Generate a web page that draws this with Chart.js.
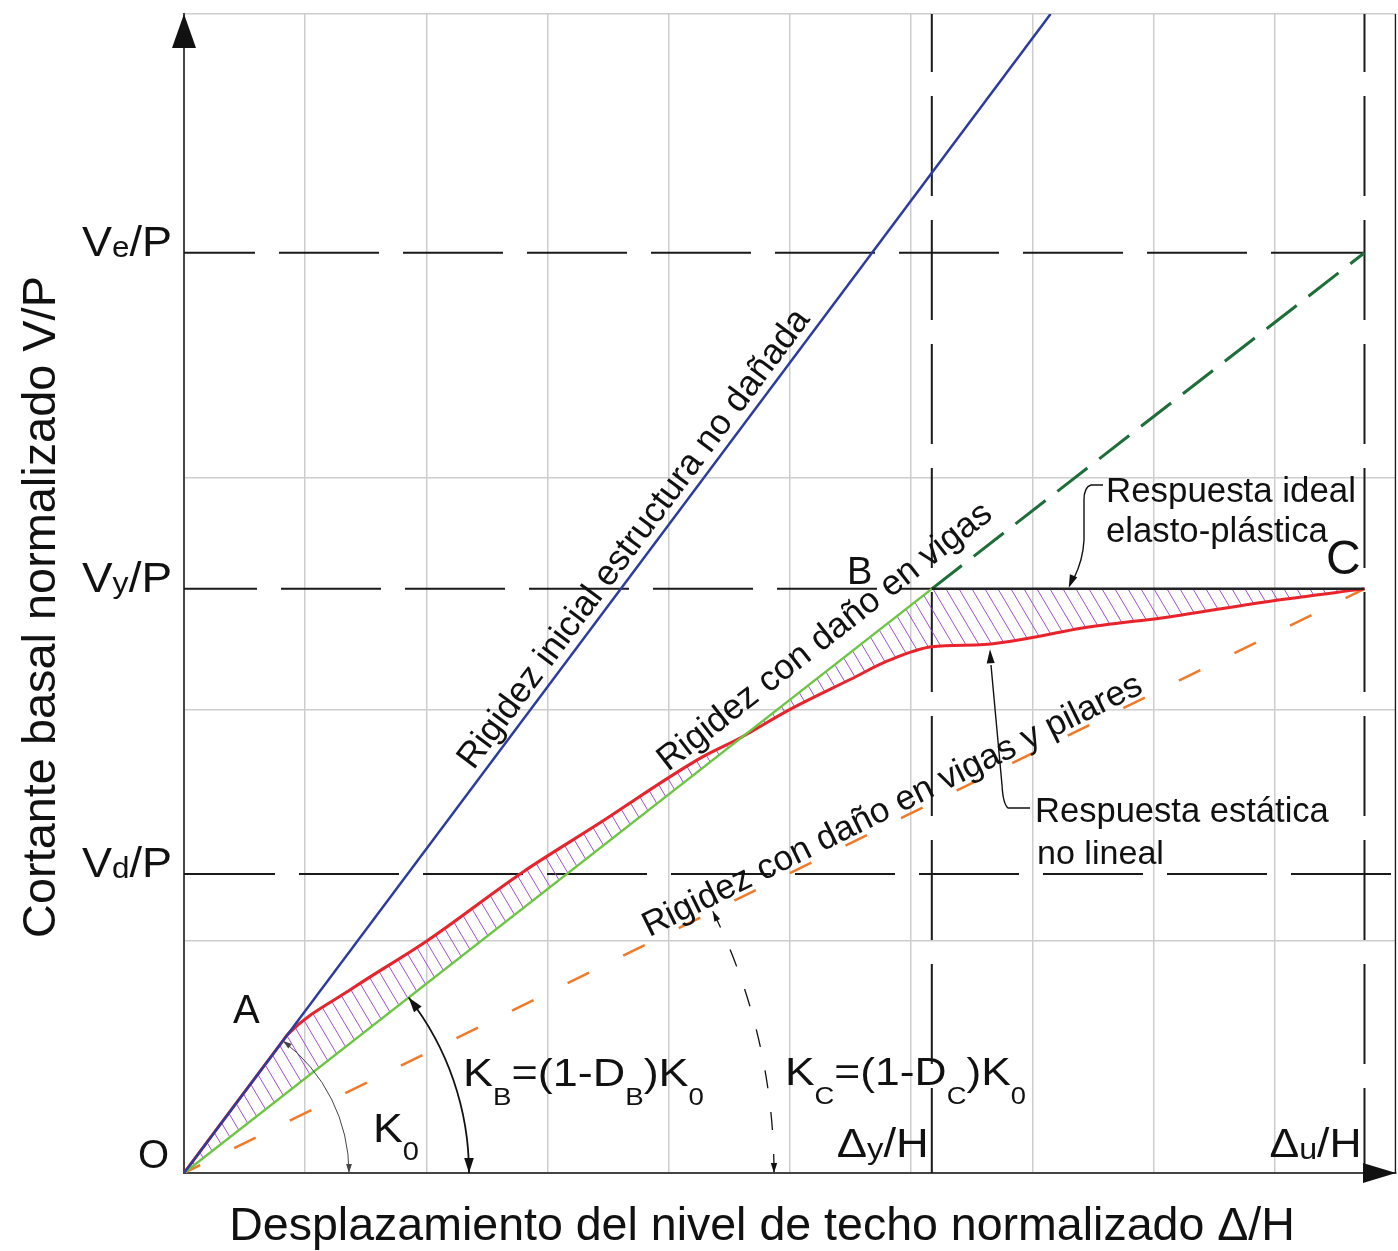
<!DOCTYPE html>
<html>
<head>
<meta charset="utf-8">
<title>Curva de capacidad</title>
<script src="https://cdn.jsdelivr.net/npm/chart.js"></script>
<style>
  body { margin: 0; background: #fff; }
  #wrap { width: 1398px; height: 1251px; }
</style>
</head>
<body>
<div id="wrap"><canvas id="chart"></canvas></div>
<script>
// grid is 10 x 5 cells in normalized units
const xMax = 10;
const yMax = 5;

// characteristic levels
const vdLevel = 1.29;   // Vd/P
const vyLevel = 2.52;   // Vy/P
const veLevel = 3.97;   // Ve/P
const dyLevel = 6.17;   // Δy/H
const duLevel = 9.74;   // Δu/H

// tick labels (main letter + subscript + rest)
const yTickValues = [vdLevel, vyLevel, veLevel];
const yTickSubs = ['d', 'y', 'e'];
const xTickValues = [dyLevel, duLevel];
const xTickSubs = ['y', 'u'];

// initial stiffness, undamaged structure (blue)
const initialX = [0, 7.15];
const initialY = [0, 5.0];

// ideal elasto-plastic response O-B-C
const idealX = [0, dyLevel, duLevel];
const idealY = [0, vyLevel, vyLevel];

// beam damage stiffness continued up to Ve/P (dashed green)
const beamExtX = [dyLevel, duLevel];
const beamExtY = [vyLevel, veLevel];

// stiffness with damage in beams and columns (O-C, orange)
const columnX = [0, duLevel];
const columnY = [0, vyLevel];

// nonlinear static response (red)
const pushX = [0, 0.80, 0.86, 1.4, 2.0, 2.8, 3.4, 4.26, 4.6, 5.0, 5.5, 5.81, 6.17, 6.6, 7.0, 7.4, 8.14, 9.0, 9.74];
const pushY = [0, 0.559, 0.60, 0.80, 1.0, 1.30, 1.50, 1.79, 1.88, 2.0, 2.13, 2.21, 2.27, 2.28, 2.31, 2.35, 2.40, 2.47, 2.52];

const FONT = '"Liberation Sans", Arial, sans-serif';
const pts = (xs, ys) => xs.map((v, i) => ({ x: v, y: ys[i] }));

const canvas = document.getElementById('chart');
const ctx = canvas.getContext('2d');

// purple diagonal hatching for the area between curves
function makeHatch() {
  const c = document.createElement('canvas');
  c.width = 13; c.height = 22;
  const g = c.getContext('2d');
  g.strokeStyle = '#a050cc';
  g.lineWidth = 1;
  for (const dx of [-13, 0, 13]) {
    g.beginPath(); g.moveTo(dx, 0); g.lineTo(dx + 13, 22); g.stroke();
  }
  return ctx.createPattern(c, 'repeat');
}

function setFont(size) { ctx.font = size + 'px ' + FONT; }

// parts: [text, isSubscript]; optional width stretches the run horizontally
function rich(parts, x0, y0, size, align, subSize, drop, width) {
  const widths = parts.map(([t, s]) => { setFont(s ? subSize : size); return ctx.measureText(t).width; });
  const natural = widths.reduce((a, b) => a + b, 0);
  const sx = width ? width / natural : 1;
  const total = natural * sx;
  const start = align === 'right' ? x0 - total : align === 'center' ? x0 - total / 2 : x0;
  ctx.save();
  ctx.translate(start, y0);
  ctx.scale(sx, 1);
  ctx.textAlign = 'left';
  ctx.textBaseline = 'alphabetic';
  let cx = 0;
  parts.forEach(([t, s], i) => {
    setFont(s ? subSize : size);
    ctx.fillText(t, cx, s ? drop : 0);
    cx += widths[i];
  });
  ctx.restore();
}

function textAlong(text, cx, cy, angle, offset, width) {
  setFont(30);
  const size = 30 * width / ctx.measureText(text).width;
  ctx.save();
  setFont(size);
  ctx.translate(cx, cy);
  ctx.rotate(angle);
  ctx.textAlign = 'center';
  ctx.textBaseline = 'alphabetic';
  ctx.fillText(text, 0, -offset);
  ctx.restore();
}

function fitText(text, x0, y0, width, align) {
  setFont(40);
  const size = 40 * width / ctx.measureText(text).width;
  setFont(size);
  ctx.textAlign = align;
  ctx.textBaseline = 'alphabetic';
  ctx.fillText(text, x0, y0);
}

function arrowHead(tx, ty, dx, dy, len, half) {
  const n = Math.hypot(dx, dy), ux = dx / n, uy = dy / n;
  const bx = tx - ux * len, by = ty - uy * len;
  ctx.beginPath();
  ctx.moveTo(tx, ty);
  ctx.lineTo(bx - uy * half, by + ux * half);
  ctx.lineTo(bx + uy * half, by - ux * half);
  ctx.closePath();
  ctx.fill();
}

function angleArc(ox, oy, r, theta, dash, head, width, color) {
  ctx.save();
  ctx.strokeStyle = color;
  ctx.fillStyle = color;
  ctx.lineWidth = width;
  ctx.setLineDash(dash);
  ctx.beginPath();
  ctx.arc(ox, oy, r, theta, 0);
  ctx.stroke();
  ctx.setLineDash([]);
  arrowHead(ox + r, oy, 0, 1, head, head * 0.32);
  arrowHead(ox + r * Math.cos(theta), oy + r * Math.sin(theta), Math.sin(theta), -Math.cos(theta), head, head * 0.32);
  ctx.restore();
}

const annotations = {
  id: 'annotations',
  afterDatasetsDraw(chart) {
    const { x, y } = chart.scales;
    const area = chart.chartArea;
    const px = v => x.getPixelForValue(v);
    const py = v => y.getPixelForValue(v);
    const ang = (x0, y0, x1, y1) => Math.atan2(py(y1) - py(y0), px(x1) - px(x0));
    const ox = px(0), oy = py(0);
    ctx.save();
    ctx.fillStyle = '#111';
    ctx.strokeStyle = '#111';

    // axis arrows
    arrowHead(area.left, area.top, 0, -1, 34, 12);
    arrowHead(area.right, area.bottom, 1, 0, 33, 10);

    // y tick labels
    yTickValues.forEach((v, i) => {
      rich([['V', false], [yTickSubs[i], true], ['/P', false]], 172, py(v) + 3, 43, 'right', 30, 1, 90);
    });
    // x tick labels
    xTickValues.forEach((v, i) => {
      rich([['Δ', false], [xTickSubs[i], true], ['/H', false]], px(v) - 3, 1157, 40, 'right', 29, 2, 92);
    });

    // axis titles
    fitText('Desplazamiento del nivel de techo normalizado Δ/H', 762, 1240, 1066, 'center');
    ctx.save();
    ctx.translate(55, 607);
    ctx.rotate(-Math.PI / 2);
    fitText('Cortante basal normalizado V/P', 0, 0, 662, 'center');
    ctx.restore();

    // point letters
    setFont(40);
    ctx.textAlign = 'left';
    ctx.fillText('O', 138, 1168);
    ctx.fillText('A', 233, 1023);
    setFont(38);
    ctx.fillText('B', 847, 584);
    setFont(48);
    ctx.fillText('C', 1326, 574);

    // texts along the stiffness lines
    const aBlue = ang(initialX[0], initialY[0], initialX[1], initialY[1]);
    const aGreen = ang(0, 0, dyLevel, vyLevel);
    const aOrange = ang(0, 0, duLevel, vyLevel);
    const blueAt = t => initialY[1] / initialX[1] * t;
    textAlong('Rigidez inicial estructura no dañada', px(3.84), py(blueAt(3.84)), aBlue, 9, 564);
    textAlong('Rigidez con daño en vigas', px(5.43), py(5.43 * vyLevel / dyLevel), aGreen, 18, 414);
    textAlong('Rigidez con daño en vigas y pilares', px(5.9), py(5.9 * vyLevel / duLevel), aOrange, 5, 553);

    // callouts
    fitText('Respuesta ideal', 1106, 502, 250, 'left');
    fitText('elasto-plástica', 1106, 542, 222, 'left');
    fitText('Respuesta estática', 1035, 822, 294, 'left');
    fitText('no lineal', 1037, 864, 127, 'left');

    ctx.lineWidth = 1.4;
    ctx.beginPath();
    ctx.moveTo(1103, 485);
    ctx.lineTo(1091, 485);
    ctx.quadraticCurveTo(1084, 487, 1084, 500);
    ctx.lineTo(1084, 540);
    ctx.quadraticCurveTo(1083, 560, 1074, 578);
    ctx.stroke();
    arrowHead(px(7.30), py(vyLevel) - 1, -0.4, 1, 13, 4);

    ctx.beginPath();
    ctx.moveTo(1030, 808);
    ctx.lineTo(1008, 808);
    ctx.quadraticCurveTo(1003, 804, 1002, 785);
    ctx.lineTo(991, 665);
    ctx.stroke();
    arrowHead(px(6.65), py(2.285) + 6, -0.05, -1, 14, 4);

    // stiffness labels with subscripts
    rich([['K', false], ['0', true]], 373, 1142, 40, 'left', 26, 18, 46);
    rich([['K', false], ['B', true], ['=(1-D', false], ['B', true], [')K', false], ['0', true]], 463, 1086, 39, 'left', 24, 19, 241);
    rich([['K', false], ['C', true], ['=(1-D', false], ['C', true], [')K', false], ['0', true]], 785, 1085, 39, 'left', 24, 19, 241);

    // stiffness angle arcs
    angleArc(ox, oy, 165, aBlue, [], 9, 1, '#444');
    angleArc(ox, oy, 285, aGreen, [], 15, 1.8, '#111');
    angleArc(ox, oy, 590, aOrange, [18, 24], 10, 1.3, '#111');

    ctx.restore();
  }
};

const refLine = (data, extra) => Object.assign({
  data, borderColor: '#1a1a1a', borderWidth: 2, borderDash: [100, 24], fill: false, order: 20
}, extra);

// no grid line runs under the Ve/P level in the original
const gridColor = c => (c.tick && c.tick.value === 4 && c.scale.axis === 'y') ? 'rgba(0,0,0,0)' : '#cdcdcd';

new Chart(ctx, {
  type: 'scatter',
  data: {
    datasets: [
      refLine(pts([0, duLevel], [veLevel, veLevel]), { borderDashOffset: 29 }),
      refLine(pts([0, dyLevel], [vyLevel, vyLevel]), { borderDashOffset: 27 }),
      refLine(pts([0, xMax], [vdLevel, vdLevel]), { borderDashOffset: 9 }),
      refLine(pts([dyLevel, dyLevel], [yMax, 0]), { borderDashOffset: 42 }),
      refLine(pts([duLevel, duLevel], [yMax, 0]), { borderDashOffset: 42 }),
      refLine(pts([xMax, xMax], [0, yMax]), { borderDash: [], borderWidth: 2.5 }),
      { // orange: beams and columns damage
        data: pts(columnX, columnY), borderColor: '#f07a2a', borderWidth: 2.5,
        borderDash: [24, 38], borderDashOffset: 6, order: 9
      },
      { // dashed dark green continuation
        data: pts(beamExtX, beamExtY), borderColor: '#1e6e3a', borderWidth: 3,
        borderDash: [38, 15], order: 8
      },
      { // nonlinear static response, hatched against ideal response
        data: pts(pushX, pushY), borderColor: '#e8232b', borderWidth: 3,
        cubicInterpolationMode: 'monotone', fill: { target: 9 },
        backgroundColor: makeHatch(), order: 6
      },
      { // ideal elasto-plastic: green then black plateau
        data: pts(idealX, idealY), borderColor: '#6cc644', borderWidth: 2.5,
        segment: { borderColor: c => c.p0DataIndex === 0 ? '#6cc644' : '#222' },
        order: 5
      },
      { // initial stiffness
        data: pts(initialX, initialY), borderColor: '#2c3c9e', borderWidth: 2.5, order: 4
      }
    ]
  },
  options: {
    responsive: true,
    maintainAspectRatio: false,
    animation: false,
    layout: { padding: { left: 184, right: 2, top: 14, bottom: 78 } },
    plugins: { legend: { display: false }, tooltip: { enabled: false } },
    elements: { point: { radius: 0 } },
    showLine: true,
    scales: {
      x: {
        type: 'linear', min: 0, max: xMax,
        ticks: { display: false, stepSize: 1 },
        grid: { color: gridColor, lineWidth: 1.5, drawTicks: false },
        border: { color: '#444', width: 2 }
      },
      y: {
        type: 'linear', min: 0, max: yMax,
        ticks: { display: false, stepSize: 1 },
        grid: { color: gridColor, lineWidth: 1.5, drawTicks: false },
        border: { color: '#444', width: 2 }
      }
    }
  },
  plugins: [annotations]
});
</script>
</body>
</html>
